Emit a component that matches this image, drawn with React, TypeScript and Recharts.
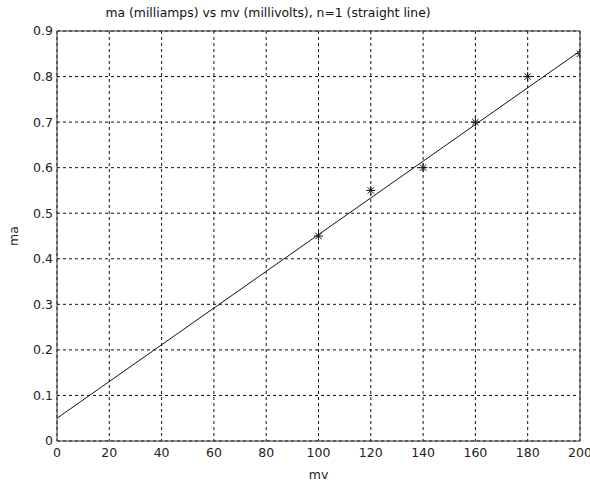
import {
  ComposedChart,
  Line,
  Scatter,
  XAxis,
  YAxis,
  CartesianGrid,
  ReferenceLine,
  Label,
} from "recharts";

const mvMeasured = [100, 120, 140, 160, 180, 200];
const maMeasured = [0.45, 0.55, 0.6, 0.7, 0.8, 0.85];

const mvFit = [0, 200];
const maFit = [0.05, 0.856];

const xTicks = [0, 20, 40, 60, 80, 100, 120, 140, 160, 180, 200];
const yTicks = [0, 0.1, 0.2, 0.3, 0.4, 0.5, 0.6, 0.7, 0.8, 0.9];

const measured = mvMeasured.map((mv, i) => ({ mv, ma: maMeasured[i] }));
const fit = mvFit.map((mv, i) => ({ mv, ma: maFit[i] }));

const font = "'DejaVu Sans', sans-serif";

const Asterisk = (props: any) => {
  const { cx, cy } = props;
  const r = 4.5;
  const d = 3.2;
  return (
    <g stroke="#111" strokeWidth={1}>
      <line x1={cx - r} y1={cy} x2={cx + r} y2={cy} />
      <line x1={cx} y1={cy - r} x2={cx} y2={cy + r} />
      <line x1={cx - d} y1={cy - d} x2={cx + d} y2={cy + d} />
      <line x1={cx - d} y1={cy + d} x2={cx + d} y2={cy - d} />
    </g>
  );
};

const App = () => {
  return (
    <div style={{ position: "absolute", left: 0, top: 0, width: 590, height: 481, background: "#fff" }}>
      <div
        style={{
          position: "absolute",
          left: 0,
          width: 536,
          top: 5,
          textAlign: "center",
          fontFamily: font,
          fontSize: 12.4,
          color: "#111",
        }}
      >
        ma (milliamps) vs mv (millivolts), n=1 (straight line)
      </div>
      <ComposedChart
        width={590}
        height={481}
        margin={{ top: 31, right: 10, bottom: 0, left: 14 }}
      >
        <CartesianGrid
          stroke="#111"
          strokeDasharray="3 3"
          horizontalValues={yTicks}
          verticalValues={xTicks}
        />
        <XAxis
          dataKey="mv"
          type="number"
          domain={[0, 200]}
          ticks={xTicks}
          allowDataOverflow
          height={40}
          stroke="#333"
          tickLine={false}
          tickSize={4}
          tickMargin={3}
          tick={{ fill: "#222", fontSize: 12.5, fontFamily: font }}
        >
          <Label
            value="mv"
            position="insideBottom"
            offset={2}
            style={{ fill: "#222", fontSize: 12.5, fontFamily: font }}
          />
        </XAxis>
        <YAxis
          dataKey="ma"
          type="number"
          domain={[0, 0.9]}
          ticks={yTicks}
          allowDataOverflow
          width={43}
          stroke="#333"
          tickLine={false}
          tickSize={2}
          tickMargin={2}
          tick={{ fill: "#222", fontSize: 12.5, fontFamily: font }}
        >
          <Label
            value="ma"
            angle={-90}
            position="insideLeft"
            offset={0}
            style={{ fill: "#222", fontSize: 12.5, fontFamily: font, textAnchor: "middle" }}
          />
        </YAxis>
        <ReferenceLine y={0.9} stroke="#333" />
        <ReferenceLine x={200} stroke="#333" />
        <Line
          data={fit}
          dataKey="ma"
          stroke="#111"
          strokeWidth={1}
          dot={false}
          activeDot={false}
          isAnimationActive={false}
        />
        <Scatter
          data={measured}
          dataKey="ma"
          shape={<Asterisk />}
          isAnimationActive={false}
        />
      </ComposedChart>
    </div>
  );
};

export default App;
